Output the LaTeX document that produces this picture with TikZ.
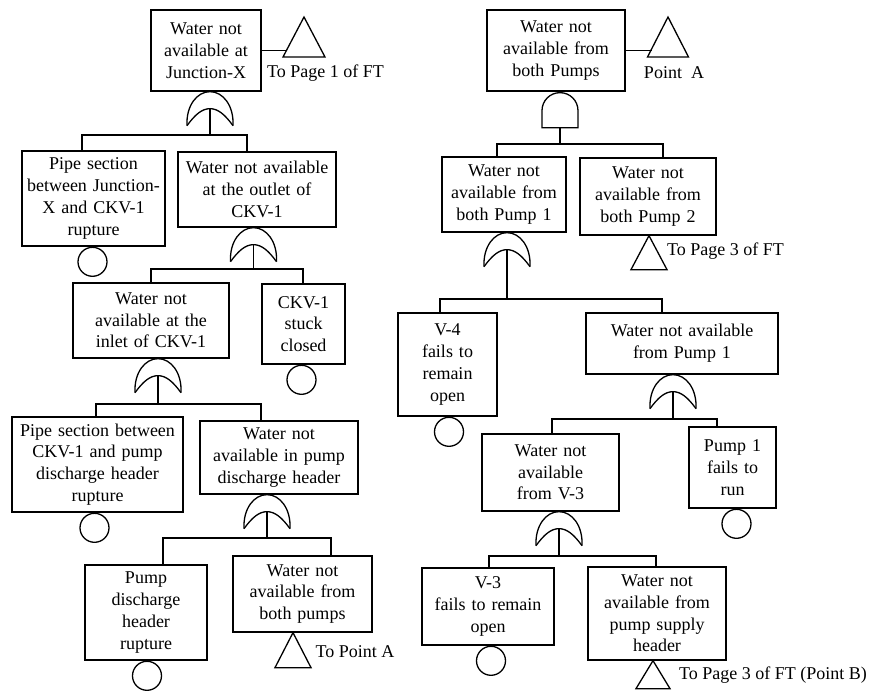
\documentclass[tikz,border=0pt]{standalone}
\usepackage{fontspec}
\setmainfont{Liberation Serif}
\newcommand\evfont{\fontsize{18}{21.7}\selectfont}
\tikzset{
  wire/.style={line width=1.3pt},
  ev/.style={draw, line width=1.3pt, align=center, inner xsep=2pt, inner ysep=0pt, font=\evfont},
  basic/.style={draw, circle, line width=1.3pt, minimum size=29pt, inner sep=0pt, anchor=north},
  lbl/.style={font=\evfont, inner sep=0pt},
  % OR gate, origin at the top of the gate
  pics/orgate/.style={code={
    \draw[wire] (-23,34) .. controls (-24,14) and (-13,0) .. (0,0)
                         .. controls (13,0) and (24,14) .. (23,34);
    \draw[wire] (-23,34) .. controls (-15,23) and (-8,17) .. (0,17)
                         .. controls (8,17) and (15,23) .. (23,34);
    \coordinate (-in) at (0,17);
  }},
  % AND gate, origin at the top of the gate
  pics/andgate/.style={code={
    \draw[wire] (-18,35) -- (-18,18) .. controls (-18,8) and (-10,0) .. (0,0)
                .. controls (10,0) and (18,8) .. (18,18) -- (18,35) -- cycle;
    \coordinate (-in) at (0,35);
  }},
  % transfer triangle, origin at the apex
  pics/xfer/.style n args={2}{code={
    \draw[wire] (0,0) -- (-#1/2,#2) -- (#1/2,#2) -- cycle;
  }},
}
\begin{document}
\begin{tikzpicture}[x=1pt,y=-1pt]
\useasboundingbox (0,0) rectangle (871,691);

% ---------------- left tree ----------------
\node[ev, text width=106pt, minimum height=81pt] (L1) at (206,50.5) {Water not\\available at\\Junction-X};
\node[ev, text width=139pt, minimum height=95pt] (L2) at (93.5,198.5) {Pipe section\\between Junction-\\X and CKV-1\\rupture};
\node[ev, text width=154pt, minimum height=75pt] (L3) at (257,189.5) {Water not available\\at the outlet of\\CKV-1};
\node[ev, text width=152pt, minimum height=75pt] (L4) at (151,320.5) {Water not\\available at the\\inlet of CKV-1};
\node[ev, text width=79pt, minimum height=80pt] (L5) at (303.5,324) {CKV-1\\stuck\\closed};
\node[ev, text width=167pt, minimum height=95pt] (L6) at (97.5,464.5) {Pipe section between\\CKV-1 and pump\\discharge header\\rupture};
\node[ev, text width=154pt, minimum height=73pt] (L7) at (279,457.5) {Water not\\available in pump\\discharge header};
\node[ev, text width=118pt, minimum height=95pt] (L8) at (146,612.5) {Pump\\discharge\\header\\rupture};
\node[ev, text width=135pt, minimum height=76pt] (L9) at (302.5,594) {Water not\\available from\\both pumps};

% ---------------- right tree ----------------
\node[ev, text width=134pt, minimum height=81pt] (R1) at (556,50.5) {Water not\\available from\\both Pumps};
\node[ev, text width=120pt, minimum height=75pt] (R2) at (504,194.5) {Water not\\available from\\both Pump 1};
\node[ev, text width=132pt, minimum height=77pt] (R3) at (648,196.5) {Water not\\available from\\both Pump 2};
\node[ev, text width=95pt, minimum height=103pt] (R4) at (447.5,364.5) {V-4\\fails to\\remain\\open};
\node[ev, text width=188pt, minimum height=61pt] (R5) at (682,343.5) {Water not available\\from Pump 1};
\node[ev, text width=133pt, minimum height=77pt] (R6) at (550.5,472.5) {Water not\\available\\from V-3};
\node[ev, text width=83pt, minimum height=81pt] (R7) at (732.5,467.5) {Pump 1\\fails to\\run};
\node[ev, text width=128pt, minimum height=77pt] (R8) at (488,606.5) {V-3\\fails to remain\\open};
\node[ev, text width=134pt, minimum height=93pt] (R9) at (657,613.5) {Water not\\available from\\pump supply\\header};

% ---------------- gates ----------------
\pic (g1) at ([xshift=4pt]L1.south) {orgate};
\pic (g2) at ([xshift=-3.5pt]L3.south) {orgate};
\pic (g3) at ([xshift=7pt]L4.south) {orgate};
\pic (g4) at ([xshift=-12pt]L7.south) {orgate};
\pic (ga) at ([xshift=4pt,yshift=-1pt]R1.south) {andgate};
\pic (g5) at ([xshift=3pt]R2.south) {orgate};
\pic (g6) at ([xshift=-9pt]R5.south) {orgate};
\pic (g7) at ([xshift=8.5pt]R6.south) {orgate};

% ---------------- gate inputs ----------------
\coordinate (b1l) at (82,135);   \coordinate (b1r) at (247,135);
\coordinate (b2l) at (151,269);  \coordinate (b2r) at (303,269);
\coordinate (b3l) at (96,404);   \coordinate (b3r) at (261,404);
\coordinate (b4l) at (163,538);  \coordinate (b4r) at (331,538);
\coordinate (bal) at (497,144);  \coordinate (bar) at (663,144);
\coordinate (b5l) at (440,299);  \coordinate (b5r) at (662,299);
\coordinate (b6l) at (552,419);  \coordinate (b6r) at (717,419);
\coordinate (b7l) at (489,556);  \coordinate (b7r) at (656,556);

\draw[wire] (g1-in) -- (g1-in |- b1l);
\draw[wire] (b1l |- L2.north) -- (b1l) -- (b1r) -- (b1r |- L3.north);
\draw[wire] (g2-in) -- (g2-in |- b2l);
\draw[wire] (b2l |- L4.north) -- (b2l) -- (b2r) -- (b2r |- L5.north);
\draw[wire] (g3-in) -- (g3-in |- b3l);
\draw[wire] (b3l |- L6.north) -- (b3l) -- (b3r) -- (b3r |- L7.north);
\draw[wire] (g4-in) -- (g4-in |- b4l);
\draw[wire] (b4l |- L8.north) -- (b4l) -- (b4r) -- (b4r |- L9.north);
\draw[wire] (ga-in) -- (ga-in |- bal);
\draw[wire] (bal |- R2.north) -- (bal) -- (bar) -- (bar |- R3.north);
\draw[wire] (g5-in) -- (g5-in |- b5l);
\draw[wire] (b5l |- R4.north) -- (b5l) -- (b5r) -- (b5r |- R5.north);
\draw[wire] (g6-in) -- (g6-in |- b6l);
\draw[wire] (b6l |- R6.north) -- (b6l) -- (b6r) -- (b6r |- R7.north);
\draw[wire] (g7-in) -- (g7-in |- b7l);
\draw[wire] (b7l |- R8.north) -- (b7l) -- (b7r) -- (b7r |- R9.north);

% ---------------- basic events ----------------
\node[basic] (L2e) at ([xshift=-1pt]L2.south) {};
\node[basic] (L5e) at ([xshift=-2pt]L5.south) {};
\node[basic] (L6e) at ([xshift=-3pt]L6.south) {};
\node[basic] (L8e) at ([xshift=1pt]L8.south) {};
\node[basic] (R4e) at ([xshift=1.5pt]R4.south) {};
\node[basic] (R7e) at ([xshift=4pt]R7.south) {};
\node[basic] (R8e) at ([xshift=3pt]R8.south) {};

% ---------------- transfers ----------------
\pic at (304,17) {xfer={42}{40}};
\coordinate (t1) at (287,50.5);
\draw[wire] (L1.east) -- (t1);
\node[lbl] (t1txt) at (325.5,73) {To Page 1 of FT};

\pic at (668,17) {xfer={41}{40}};
\coordinate (ta) at (651.5,50.5);
\draw[wire] (R1.east) -- (ta);
\node[lbl] (tatxt) at (674,73) {Point~ A};

\pic at ([xshift=1pt]R3.south) {xfer={36}{34}};
\node[lbl] (t3txt) at (725.5,251) {To Page 3 of FT};

\pic at ([xshift=-9.5pt]L9.south) {xfer={36}{35}};
\node[lbl] (t9txt) at (355,652) {To Point A};

\pic at ([xshift=-4pt]R9.south) {xfer={34}{28}};
\node[lbl] (tbtxt) at (773,675) {To Page 3 of FT (Point B)};
\end{tikzpicture}
\end{document}
